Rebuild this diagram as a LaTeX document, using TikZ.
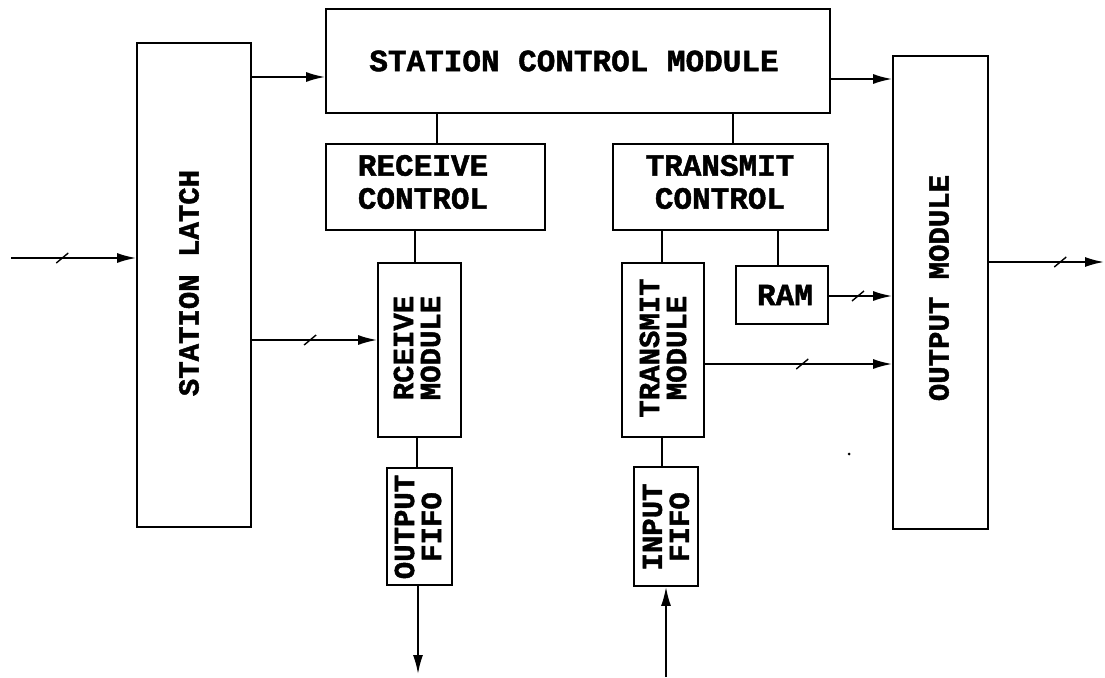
\documentclass[tikz,border=0pt]{standalone}
\usepackage{fontspec}
\newfontfamily\lbl{Liberation Mono}[BoldFeatures={FakeBold=1.5}]
\usetikzlibrary{arrows.meta}
\begin{document}
\begin{tikzpicture}[x=1pt,y=-1pt,
  box/.style={draw,line width=1.8pt,inner sep=0pt},
  hlab/.style={font=\lbl\bfseries\fontsize{31}{33}\selectfont,align=center,inner sep=0pt},
  vlab/.style={font=\lbl\bfseries\fontsize{29}{27}\selectfont,align=center,inner sep=0pt,rotate=90},
  ln/.style={line width=1.8pt},
  arr/.style={line width=1.8pt,-{Latex[length=19pt,width=10pt]}},
  slash/.pic={\draw[line width=1.4pt,-] (-6,5) -- (6,-5);}]
\useasboundingbox (0,0) rectangle (1105,677);
% boxes
\node[box,minimum width=504pt,minimum height=104pt] (scm) at (578,61) {};
\node[box,minimum width=114pt,minimum height=484pt] (latch) at (194,285) {};
\node[box,minimum width=95pt,minimum height=473pt] (om) at (940.5,292.5) {};
\node[box,minimum width=219pt,minimum height=86pt] (rc) at (435.5,187) {};
\node[box,minimum width=215pt,minimum height=86pt] (tc) at (720.5,187) {};
\node[box,minimum width=83pt,minimum height=174pt] (rm) at (419.5,350) {};
\node[box,minimum width=82pt,minimum height=174pt] (tm) at (663,350) {};
\node[box,minimum width=92pt,minimum height=58pt] (ram) at (782,295) {};
\node[box,minimum width=65pt,minimum height=117pt] (of) at (419.5,526.5) {};
\node[box,minimum width=64pt,minimum height=119pt] (if) at (666,526.5) {};
% labels
\node[hlab] (scmT) at (574,61) {STATION CONTROL MODULE};
\node[hlab] (rcT) at (423,182) {RECEIVE\\CONTROL};
\node[hlab] (tcT) at (720,182) {TRANSMIT\\CONTROL};
\node[hlab] (ramT) at (785,295) {RAM};
\node[vlab] (latchT) at (189,283) {STATION LATCH};
\node[vlab] (omT) at (939,288) {OUTPUT MODULE};
\node[vlab] (rmT) at (417,348) {RCEIVE\\MODULE};
\node[vlab] (tmT) at (663,348) {TRANSMIT\\MODULE};
\node[vlab] (ofT) at (418,527) {OUTPUT\\FIFO};
\node[vlab] (ifT) at (666,527) {INPUT\\FIFO};
% helper rows / columns
\coordinate (r77) at (0,77);
\coordinate (r79) at (0,79);
\coordinate (r296) at (0,296);
\coordinate (r340) at (0,340);
\coordinate (r364) at (0,364);
\coordinate (c437) at (437,0);
\coordinate (c733) at (733,0);
\coordinate (c415) at (415,0);
\coordinate (c662) at (662,0);
\coordinate (c778) at (778,0);
\coordinate (c417) at (417,0);
\coordinate (inL) at (11,258);
\coordinate (outR) at (1104,262);
\coordinate (ofout) at (418,674);
\coordinate (ifin) at (666,677);
% connectors
\draw[arr] (inL) -- pic[pos=0.41]{slash} (inL -| latch.west);
\draw[arr] (latch.east |- r77) -- (scm.west |- r77);
\draw[arr] (scm.east |- r79) -- (om.west |- r79);
\draw[ln] (scm.south -| c437) -- (rc.north -| c437);
\draw[ln] (scm.south -| c733) -- (tc.north -| c733);
\draw[ln] (rc.south -| c415) -- (rm.north -| c415);
\draw[ln] (tc.south -| c662) -- (tm.north -| c662);
\draw[ln] (tc.south -| c778) -- (ram.north -| c778);
\draw[arr] (latch.east |- r340) -- pic[pos=0.465]{slash} (rm.west |- r340);
\draw[ln] (rm.south -| c417) -- (of.north -| c417);
\draw[ln] (tm.south -| c662) -- (if.north -| c662);
\draw[arr] (of.south -| ofout) -- (ofout);
\draw[arr] (ifin) -- (if.south -| ifin);
\draw[arr] (ram.east |- r296) -- pic[pos=0.46]{slash} (om.west |- r296);
\draw[arr] (tm.east |- r364) -- pic[pos=0.52]{slash} (om.west |- r364);
\draw[arr] (om.east |- outR) -- pic[pos=0.62]{slash} (outR);
\fill (849,454) circle (1.5pt);
\end{tikzpicture}
\end{document}
